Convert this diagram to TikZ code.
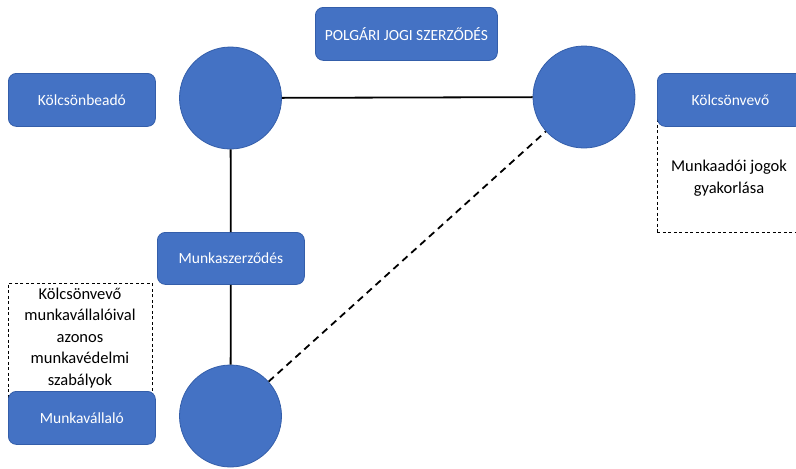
\documentclass[tikz,border=0pt]{standalone}
\usepackage{fontspec}
\setmainfont{Carlito}
\usetikzlibrary{positioning}
\definecolor{boxblue}{RGB}{68,114,196}
\definecolor{edgeblue}{RGB}{52,94,170}
\begin{document}
\begin{tikzpicture}[x=1pt,y=1pt,
  bluebox/.style={draw=edgeblue,line width=0.8pt,fill=boxblue,rounded corners=8pt,
    text=white,font=\fontsize{15.5}{18}\selectfont,inner sep=0pt,anchor=north west},
  bluecirc/.style={circle,draw=edgeblue,line width=0.8pt,fill=boxblue,minimum size=102pt,inner sep=0pt},
  notebox/.style={draw=black,dashed,dash pattern=on 3pt off 2.5pt,line width=0.8pt,
    anchor=north west,inner sep=0pt},
  notetext/.style={align=center,font=\fontsize{16.5}{21.5}\selectfont},
  link/.style={line width=1.8pt,black},
  dlink/.style={line width=1.8pt,black,dash pattern=on 7pt off 5pt}]
\useasboundingbox (0,0) rectangle (796,-469);
\clip (0,0) rectangle (796,-469);
% dashed note boxes (behind the blue boxes)
\node[notebox,minimum width=147pt,minimum height=132pt] (noteR) at (657,-99.5) {};
\node[notetext] (noteRtxt) at (729,-178) {Munkaadói jogok\\gyakorlása};
\node[notebox,minimum width=144pt,minimum height=134pt] (noteL) at (8,-283) {};
\node[notetext] (noteLtxt) at (80,-338) {Kölcsönvevő\\munkavállalóival\\azonos\\munkavédelmi\\szabályok};
% blue boxes
\node[bluebox,minimum width=182pt,minimum height=53pt] (pjsz) at (315,-7) {POLGÁRI JOGI SZERZŐDÉS};
\node[bluebox,minimum width=147pt,minimum height=53pt] (kb) at (8,-73) {Kölcsönbeadó};
\node[bluebox,minimum width=146pt,minimum height=53pt] (kv) at (657,-73) {Kölcsönvevő};
\node[bluebox,minimum width=147pt,minimum height=52pt] (msz) at (157,-232) {Munkaszerződés};
\node[bluebox,minimum width=147pt,minimum height=53pt] (mv) at (8,-391) {Munkavállaló};
% circles
\node[bluecirc] (c1) at (230.5,-98) {};
\node[bluecirc] (c2) at (584,-97) {};
\node[bluecirc] (c3) at (230.5,-416) {};
% connectors
\draw[link] (c1) -- (c2);
\draw[link] (c1) -- (msz);
\draw[link] (msz) -- (c3);
\draw[dlink] (c3) -- (c2);
\end{tikzpicture}
\end{document}
